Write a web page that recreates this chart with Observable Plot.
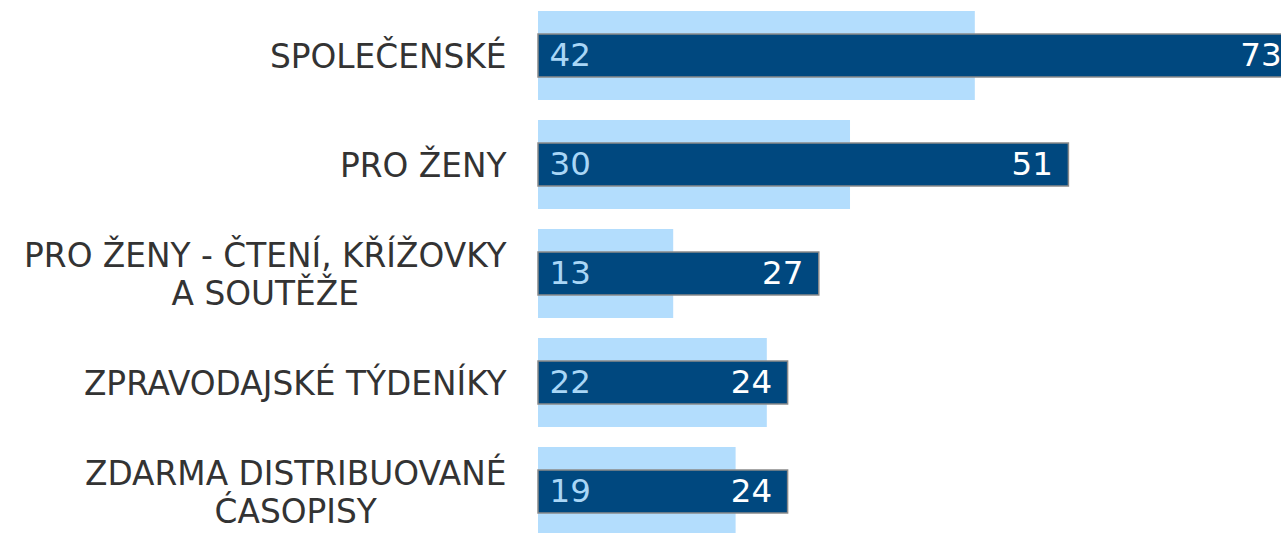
<!DOCTYPE html>
<html>
<head>
<meta charset="utf-8">
<script src="https://cdn.jsdelivr.net/npm/d3@7"></script>
<script src="https://cdn.jsdelivr.net/npm/@observablehq/plot@0.6"></script>
<style>
  html, body { margin: 0; padding: 0; background: #fff; overflow: hidden; }
  #chart svg { display: block; }
</style>
</head>
<body>
<div id="chart"></div>
<script>
const categories = [
  "SPOLEČENSKÉ",
  "PRO ŽENY",
  "PRO ŽENY - ČTENÍ, KŘÍŽOVKY\nA SOUTĚŽE",
  "ZPRAVODAJSKÉ TÝDENÍKY",
  "ZDARMA DISTRIBUOVANÉ\nĆASOPISY"
];
const lightValues = [42, 30, 13, 22, 19];
const darkValues = [73, 51, 27, 24, 24];

const data = categories.map((cat, i) => ({cat, light: lightValues[i], dark: darkValues[i]}));

const FONT = "DejaVu Sans, Verdana, sans-serif";
const labelSize = 32.8;
const valueSize = 32.5;
const ctx = document.createElement("canvas").getContext("2d");
ctx.font = `${labelSize}px DejaVu Sans`;
const widthOf = (s) => Math.max(...s.split("\n").map(l => ctx.measureText(l).width));

const labelMarks = categories.map(c => Plot.text([c], {
  x: () => 0, y: d => d, text: d => d,
  textAnchor: "middle", dx: -32 - widthOf(c) / 2,
  lineHeight: 1.16, fontSize: labelSize, fill: "#333333"
}));

const chart = Plot.plot({
  width: 1281,
  height: 548,
  marginLeft: 538,
  marginRight: 0,
  marginTop: 0,
  marginBottom: 0,
  style: {fontFamily: FONT, background: "#ffffff", overflow: "hidden"},
  x: {domain: [0, 71.44], axis: null},
  y: {domain: categories, paddingInner: 0.18, paddingOuter: 0.092, axis: null},
  marks: [
    Plot.barX(data, {x: "light", y: "cat", fill: "#b3ddfd"}),
    Plot.barX(data, {x: "dark", y: "cat", fill: "#00487f", stroke: "#8a8a8a", strokeWidth: 1.5, insetTop: 23, insetBottom: 23}),
    Plot.text(data, {x: () => 0, y: "cat", text: d => String(d.light), textAnchor: "start", dx: 11, fill: "#a9d6f6", fontSize: valueSize}),
    Plot.text(data, {x: "dark", y: "cat", text: d => String(d.dark), textAnchor: "end", dx: -16, fill: "#ffffff", fontSize: valueSize}),
    ...labelMarks
  ]
});
document.getElementById("chart").appendChild(chart);
</script>
</body>
</html>
